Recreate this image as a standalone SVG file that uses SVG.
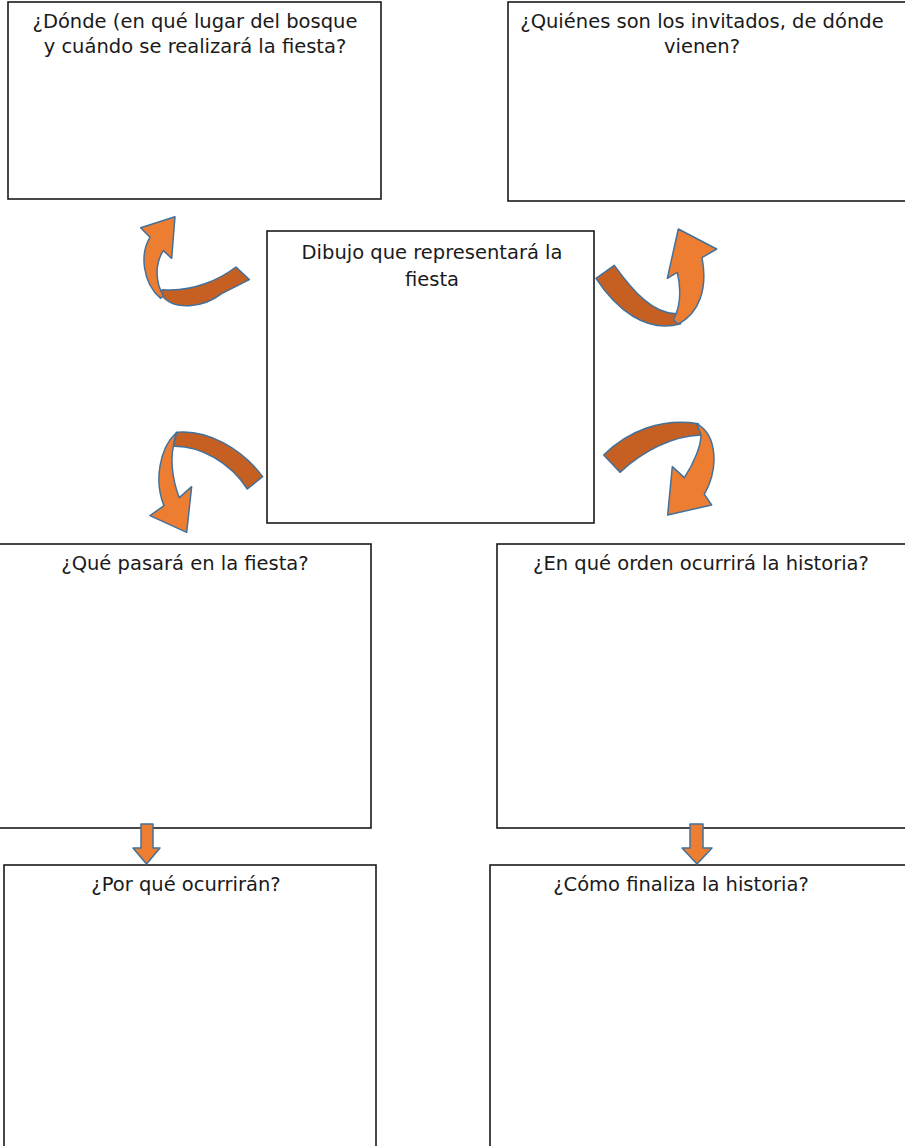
<svg xmlns="http://www.w3.org/2000/svg" width="905" height="1146" viewBox="0 0 905 1146">
<style>
.box{fill:#fff;stroke:#1a1a1a;stroke-width:1.6}
.t{font-family:"DejaVu Sans","Liberation Sans",sans-serif;font-size:19.5px;fill:#1a1a1a;text-anchor:middle}
.lt{fill:#ED7D31;stroke:#41719C;stroke-width:4.5;stroke-linejoin:round}
.dk{fill:#C55F22;stroke:#41719C;stroke-width:4.5;stroke-linejoin:round}
.da{fill:#ED7D31;stroke:#41719C;stroke-width:1.5;stroke-linejoin:round}
</style>
<rect width="905" height="1146" fill="#fff"/>
<g id="n-donde"><rect class="box" x="8" y="2" width="373" height="197"/><text class="t" x="195" y="28">¿Dónde (en qué lugar del bosque</text><text class="t" x="195" y="53">y cuándo se realizará la fiesta?</text></g>
<g id="n-quienes"><rect class="box" x="508" y="2" width="400" height="199"/><text class="t" x="702" y="28">¿Quiénes son los invitados, de dónde</text><text class="t" x="702" y="53">vienen?</text></g>
<g id="n-dibujo"><rect class="box" x="267" y="231" width="327" height="292"/><text class="t" x="432" y="259">Dibujo que representará la</text><text class="t" x="432" y="286">fiesta</text></g>
<g id="n-que"><rect class="box" x="-2" y="544" width="373" height="284"/><text class="t" x="185" y="570">¿Qué pasará en la fiesta?</text></g>
<g id="n-orden"><rect class="box" x="497" y="544" width="411" height="284"/><text class="t" x="701" y="570">¿En qué orden ocurrirá la historia?</text></g>
<g id="n-porque"><rect class="box" x="4" y="865" width="372" height="290"/><text class="t" x="186" y="891">¿Por qué ocurrirán?</text></g>
<g id="n-como"><rect class="box" x="490" y="865" width="418" height="290"/><text class="t" x="681" y="891">¿Cómo finaliza la historia?</text></g>
<g id="connectors">
<g transform="translate(120,205) scale(0.3333)">
<path class="dk" d="M 118,262 C 160,325 255,305 305,266 L 388,224 L 348,186 C 300,222 220,262 128,254 Z"/>
<path class="lt" d="M 130,272 C 105,230 105,175 130,137 L 155,160 L 165,35 L 62,68 L 90,97 C 60,145 66,232 122,280 Z"/>
</g>
<g transform="translate(590,225) scale(0.3333)">
<path class="dk" d="M 18,160 C 80,255 170,325 272,296 L 262,266 C 190,268 130,200 73,121 Z"/>
<path class="lt" d="M 265,297 C 328,265 354,190 336,98 L 380,72 L 265,12 L 232,160 L 262,142 C 275,200 272,245 250,285 Z"/>
</g>
<g transform="translate(140,425) scale(0.3333)">
<path class="dk" d="M 110,22 C 200,12 305,70 368,155 L 322,192 C 270,112 180,62 100,64 Z"/>
<path class="lt" d="M 108,24 C 58,70 42,170 72,242 L 30,272 L 140,322 L 155,185 L 118,218 C 95,160 92,100 100,64 Z"/>
</g>
<g transform="translate(595,405) scale(0.3333)">
<path class="dk" d="M 26,150 C 100,78 200,38 310,56 L 318,90 C 230,92 140,142 75,202 Z"/>
<path class="lt" d="M 305,56 C 367,90 372,190 328,268 L 350,300 L 218,330 L 232,185 L 268,218 C 300,170 318,120 318,90 Z"/>
</g>
<path class="da" d="M141,824 L153,824 L153,848 L160,848 L146.5,864 L133,848 L141,848 Z"/>
<path class="da" d="M690,824 L703,824 L703,848 L712,848 L697,864 L682,848 L690,848 Z"/>
</g>
</svg>
